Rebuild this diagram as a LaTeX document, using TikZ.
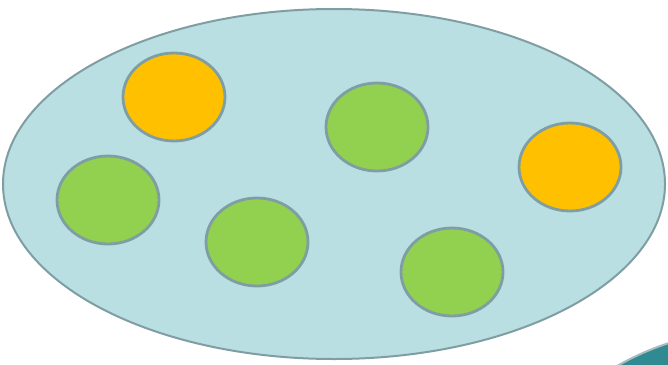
\documentclass[tikz,border=0pt]{standalone}
\usepackage{tikz}
\usetikzlibrary{shapes.geometric}

\definecolor{setfill}{HTML}{B9DFE3}
\definecolor{setedge}{HTML}{7F9EA3}
\definecolor{orangeball}{HTML}{FFC000}
\definecolor{greenball}{HTML}{92D050}
\definecolor{tealpiece}{HTML}{2F8A92}

\tikzset{
    ball/.style={ellipse, draw=setedge, line width=2.8pt,
        minimum width=102pt, minimum height=88pt, inner sep=0pt},
    orangeb/.style={ball, fill=orangeball},
    greenb/.style={ball, fill=greenball}
}

\begin{document}
\begin{tikzpicture}[x=1pt, y=-1pt]
    \useasboundingbox (0,0) rectangle (668,364);

    % 1. Mảnh màu xanh đậm ở góc dưới phải
    \begin{scope}
        \clip (0,0) rectangle (668,364);
        \filldraw[fill=tealpiece, draw=setedge!70, line width=2pt] (752,600) circle (270);
    \end{scope}

    % 2. Hình elip lớn
    \node[ellipse, draw=setedge, fill=setfill, line width=2pt,
        minimum width=662pt, minimum height=350pt, inner sep=0pt] (tap) at (334,184) {};

    % 3. Các phần tử màu cam
    \node[orangeb] (camA) at (174,97) {};
    \node[orangeb] (camB) at (570,167) {};

    % 4. Các phần tử màu xanh lá
    \node[greenb] (xanhA) at (377,127) {};
    \node[greenb] (xanhB) at (108,200) {};
    \node[greenb] (xanhC) at (257,242) {};
    \node[greenb] (xanhD) at (452,272) {};

\end{tikzpicture}
\end{document}
